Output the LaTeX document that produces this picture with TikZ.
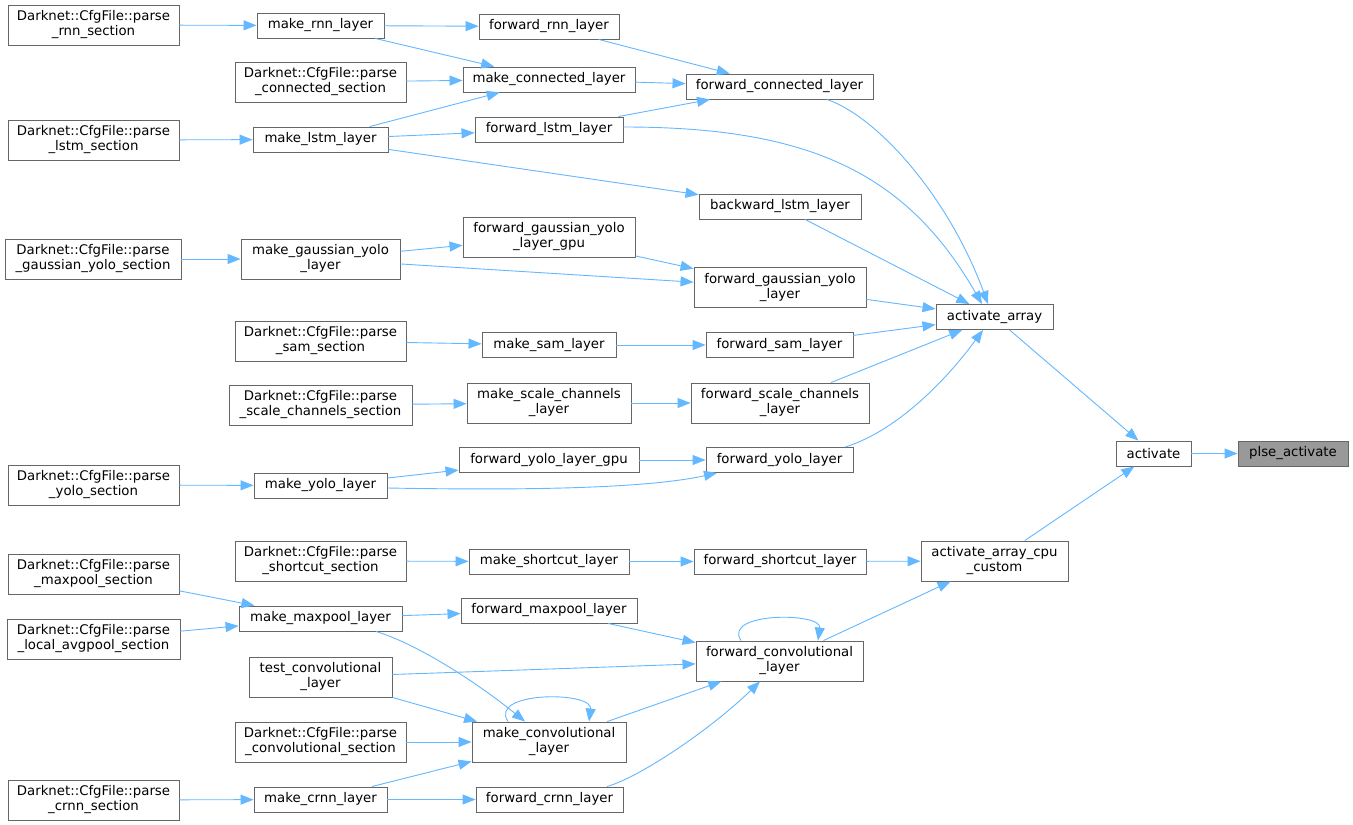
\documentclass[tikz,border=0pt]{standalone}
\usepackage{fontspec}
\setmainfont{DejaVu Sans}
\usetikzlibrary{arrows.meta}
\definecolor{edgeblue}{HTML}{63B8FF}
\definecolor{boxgray}{HTML}{666666}
\definecolor{hlgray}{HTML}{999999}
\begin{document}
\begin{tikzpicture}[x=1pt,y=-1pt,
  fn/.style={draw=boxgray, line width=0.9pt, inner sep=0pt, align=center,
    font=\fontsize{13.3pt}{15pt}\selectfont, text=black},
  one/.style={minimum height=25pt},
  two/.style={minimum height=40pt},
  lnk/.style={draw=edgeblue, line width=0.9pt, -{Triangle[length=13pt,width=10pt]}},
]
\path[fill=white, use as bounding box] (0,0) rectangle (1353,825);

% column 1
\node[fn,two,minimum width=171pt] (prnn) at (93.5,25) {Darknet::CfgFile::parse\\\_rnn\_section};
\node[fn,two,minimum width=171pt] (plstm) at (93.5,140) {Darknet::CfgFile::parse\\\_lstm\_section};
\node[fn,two,minimum width=176pt] (pgy) at (93,259) {Darknet::CfgFile::parse\\\_gaussian\_yolo\_section};
\node[fn,two,minimum width=171pt] (pyolo) at (93.5,485) {Darknet::CfgFile::parse\\\_yolo\_section};
\node[fn,two,minimum width=171pt] (pmax) at (93.5,574) {Darknet::CfgFile::parse\\\_maxpool\_section};
\node[fn,two,minimum width=173pt] (pavg) at (93.5,639) {Darknet::CfgFile::parse\\\_local\_avgpool\_section};
\node[fn,two,minimum width=171pt] (pcrnn) at (93.5,800) {Darknet::CfgFile::parse\\\_crnn\_section};

% column 2
\node[fn,one,minimum width=127pt] (mrnn) at (320.5,25.5) {make\_rnn\_layer};
\node[fn,two,minimum width=171pt] (pconn) at (320.5,82) {Darknet::CfgFile::parse\\\_connected\_section};
\node[fn,one,minimum width=135pt] (mlstm) at (320.5,139.5) {make\_lstm\_layer};
\node[fn,two,minimum width=159pt] (mgy) at (320.5,259) {make\_gaussian\_yolo\\\_layer};
\node[fn,two,minimum width=171pt] (psam) at (320.5,341) {Darknet::CfgFile::parse\\\_sam\_section};
\node[fn,two,minimum width=183pt] (pscl) at (320.5,405) {Darknet::CfgFile::parse\\\_scale\_channels\_section};
\node[fn,one,minimum width=133pt] (myolo) at (320.5,485.5) {make\_yolo\_layer};
\node[fn,two,minimum width=171pt] (pshort) at (320.5,561) {Darknet::CfgFile::parse\\\_shortcut\_section};
\node[fn,one,minimum width=163pt] (mmax) at (320.5,618.5) {make\_maxpool\_layer};
\node[fn,two,minimum width=143pt] (tconv) at (320.5,677) {test\_convolutional\\\_layer};
\node[fn,two,minimum width=171pt] (pconv) at (320.5,742) {Darknet::CfgFile::parse\\\_convolutional\_section};
\node[fn,one,minimum width=133pt] (mcrnn) at (320.5,799.5) {make\_crnn\_layer};

% column 3
\node[fn,one,minimum width=140pt] (frnn) at (549,26.5) {forward\_rnn\_layer};
\node[fn,one,minimum width=172pt] (mconn) at (549,79.5) {make\_connected\_layer};
\node[fn,one,minimum width=148pt] (flstm) at (549,129.5) {forward\_lstm\_layer};
\node[fn,two,minimum width=172pt] (fgygpu) at (549,237) {forward\_gaussian\_yolo\\\_layer\_gpu};
\node[fn,one,minimum width=134pt] (msam) at (549,345) {make\_sam\_layer};
\node[fn,two,minimum width=164pt] (mscl) at (549,403) {make\_scale\_channels\\\_layer};
\node[fn,one,minimum width=180pt] (fylgpu) at (549,460) {forward\_yolo\_layer\_gpu};
\node[fn,one,minimum width=160pt] (mshort) at (549,561.5) {make\_shortcut\_layer};
\node[fn,one,minimum width=176pt] (fmax) at (549,610.5) {forward\_maxpool\_layer};
\node[fn,two,minimum width=154pt] (mconv) at (549,742) {make\_convolutional\\\_layer};
\node[fn,one,minimum width=147pt] (fcrnn) at (549.5,799.5) {forward\_crnn\_layer};

% column 4
\node[fn,one,minimum width=187pt] (fconn) at (779.5,86.5) {forward\_connected\_layer};
\node[fn,one,minimum width=162pt] (blstm) at (780,206.5) {backward\_lstm\_layer};
\node[fn,two,minimum width=172pt] (fgy) at (780,287.5) {forward\_gaussian\_yolo\\\_layer};
\node[fn,one,minimum width=147pt] (fsam) at (779.5,345) {forward\_sam\_layer};
\node[fn,two,minimum width=178pt] (fscl) at (780,403) {forward\_scale\_channels\\\_layer};
\node[fn,one,minimum width=147pt] (fyolo) at (779.5,460) {forward\_yolo\_layer};
\node[fn,one,minimum width=172pt] (fshort) at (780,561.5) {forward\_shortcut\_layer};
\node[fn,two,minimum width=167pt] (fconv) at (779.5,661) {forward\_convolutional\\\_layer};

% column 5-7
\node[fn,one,minimum width=117pt] (aa) at (994.5,317) {activate\_array};
\node[fn,two,minimum width=147pt] (aacc) at (994.5,561) {activate\_array\_cpu\\\_custom};
\node[fn,one,minimum width=75pt] (act) at (1153.5,453.5) {activate};
\node[fn,one,minimum width=110pt,fill=hlgray] (plse) at (1293,453.5) {plse\_activate};

% edges
\draw[lnk] (prnn) -- (mrnn);
\draw[lnk] (mrnn) -- (frnn);
\draw[lnk] (mrnn) -- (mconn);
\draw[lnk] (pconn) -- (mconn);
\draw[lnk] (mlstm) -- (mconn);
\draw[lnk] (mlstm) -- (flstm);
\draw[lnk] (mlstm) -- (blstm);
\draw[lnk] (plstm) -- (mlstm);
\draw[lnk] (frnn) -- (fconn);
\draw[lnk] (mconn) -- (fconn);
\draw[lnk] (flstm) -- (fconn);
\draw[lnk] ([xshift=47.5pt]fconn.south) .. controls (880,118) and (950,200) .. ([xshift=-6.5pt]aa.north);
\draw[lnk] ([yshift=2.5pt]flstm.east) .. controls (805,127) and (905,170) .. ([xshift=-12.5pt]aa.north);
\draw[lnk] (blstm) -- (aa);
\draw[lnk] (pgy) -- (mgy);
\draw[lnk] (mgy) -- (fgygpu);
\draw[lnk] (mgy) -- (fgy);
\draw[lnk] (fgygpu) -- (fgy);
\draw[lnk] (fgy) -- (aa);
\draw[lnk] (psam) -- (msam);
\draw[lnk] (msam) -- (fsam);
\draw[lnk] (fsam) -- (aa);
\draw[lnk] (pscl) -- (mscl);
\draw[lnk] (mscl) -- (fscl);
\draw[lnk] (fscl) -- (aa);
\draw[lnk] ([xshift=65.5pt]fyolo.north) .. controls (900,430) and (950,375) .. ([xshift=-11.5pt]aa.south);
\draw[lnk] (fylgpu) -- (fyolo);
\draw[lnk] (myolo) -- (fylgpu);
\draw[lnk] ([yshift=-2.5pt]myolo.east) .. controls (500,490) and (640,490) .. ([xshift=-62.5pt]fyolo.south);
\draw[lnk] (pyolo) -- (myolo);
\draw[lnk] (aa) -- (act);
\draw[lnk] (act) -- (plse);
\draw[lnk] (aacc) -- (act);
\draw[lnk] (pshort) -- (mshort);
\draw[lnk] (mshort) -- (fshort);
\draw[lnk] (fshort) -- (aacc);
\draw[lnk] (fconv) -- (aacc);
\draw[lnk] ([xshift=-38.5pt]fconv.north) .. controls (722,612) and (822,612) .. ([xshift=38.5pt]fconv.north);
\draw[lnk] (pmax) -- (mmax);
\draw[lnk] (pavg) -- (mmax);
\draw[lnk] (mmax) -- (fmax);
\draw[lnk] ([xshift=55.5pt]mmax.south) .. controls (420,645) and (480,685) .. ([xshift=-24pt]mconv.north);
\draw[lnk] (fmax) -- (fconv);
\draw[lnk] (tconv) -- (fconv);
\draw[lnk] (tconv) -- (mconv);
\draw[lnk] ([xshift=-41pt]mconv.north) .. controls (488,691) and (593,691) .. ([xshift=40pt]mconv.north);
\draw[lnk] (mconv) -- (fconv);
\draw[lnk] (pconv) -- (mconv);
\draw[lnk] (mcrnn) -- (mconv);
\draw[lnk] (mcrnn) -- (fcrnn);
\draw[lnk] (pcrnn) -- (mcrnn);
\draw[lnk] ([xshift=57.5pt]fcrnn.north) .. controls (640,777) and (710,730) .. ([xshift=-19.5pt]fconv.south);
\end{tikzpicture}
\end{document}
